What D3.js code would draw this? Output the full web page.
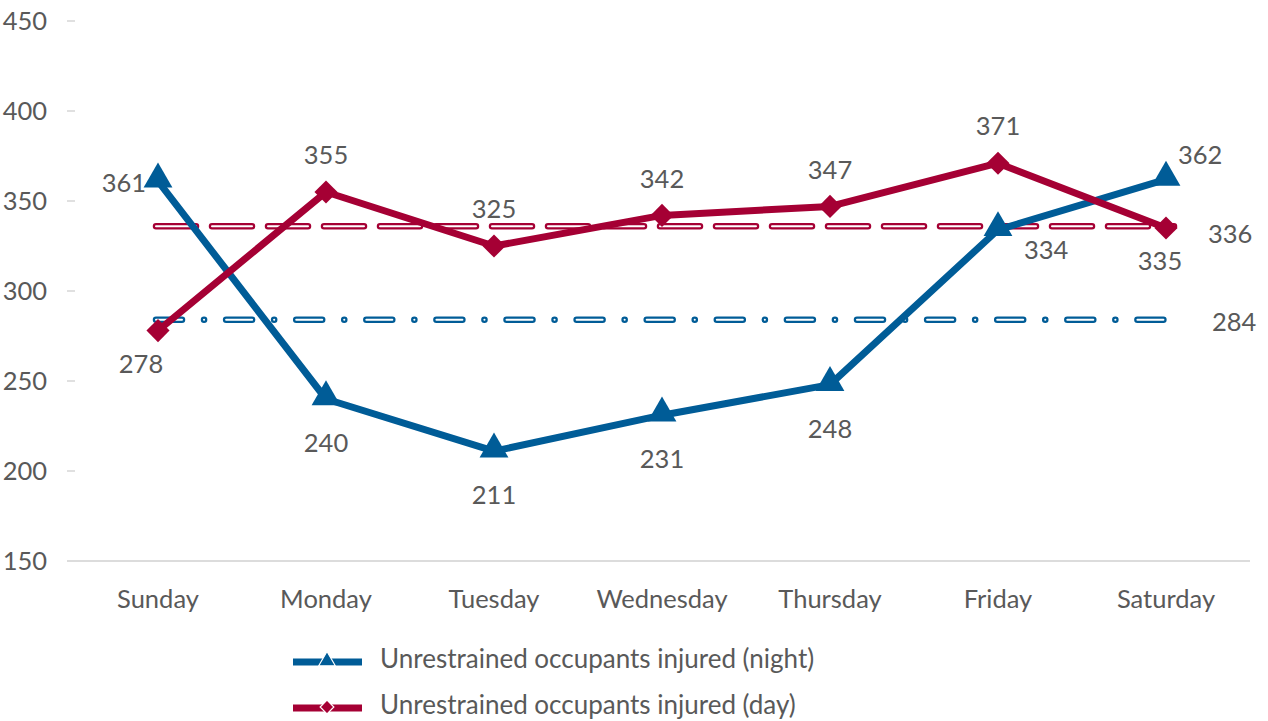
<!DOCTYPE html>
<html>
<head>
<meta charset="utf-8">
<script src="https://cdn.jsdelivr.net/npm/d3@7"></script>
<style>
	body { margin: 0; background: #fff; }
	text { font-family: Lato, "Open Sans", sans-serif; fill: #595959; }
</style>
</head>
<body>
<svg id="chart" width="1268" height="721"></svg>
<script>
const days = ['Sunday', 'Monday', 'Tuesday', 'Wednesday', 'Thursday', 'Friday', 'Saturday'];
const nightValues = [361, 240, 211, 231, 248, 334, 362];
const dayValues = [278, 355, 325, 342, 347, 371, 335];
const nightAverage = 284;
const dayAverage = 336;
const yTicks = [150, 200, 250, 300, 350, 400, 450];
const nightLabelPos = ['left', 'below', 'below', 'below', 'below', 'belowRight', 'aboveRight'];
const dayLabelPos = ['below', 'above', 'above', 'above', 'above', 'above', 'below'];

const blue = '#005C97';
const red = '#A50034';

const Chart = {
	left: 74,
	right: 1250,
	top: 21,
	bottom: 561,
	fontSize: '25.5px',

	draw: function() {
		const self = this;
		let svg = d3.select('#chart');

		self.x = d3.scaleBand().domain(days).range([ self.left, self.right ]);
		self.y = d3.scaleLinear().domain([ 150, 450 ]).range([ self.bottom, self.top ]);

		self.drawAxes(svg);
		self.drawAverage(svg, dayAverage, red, '40,16', 'round');
		self.drawAverage(svg, nightAverage, blue, '26,22,0.1,22', 'round');
		self.drawSeries(svg, nightValues, blue, 'triangle', nightLabelPos);
		self.drawSeries(svg, dayValues, red, 'diamond', dayLabelPos);
		self.drawAverageLabels(svg);
		self.drawLegend(svg);
	},

	xc: function(i) {
		return this.x(days[i]) + this.x.bandwidth() / 2;
	},

	drawAxes: function(svg) {
		const self = this;

		svg.append('g').selectAll('line')
			.data(yTicks.slice(1))
			.enter().append('line')
			.attr('x1', 67).attr('x2', 75)
			.attr('y1', d => self.y(d)).attr('y2', d => self.y(d))
			.style('stroke', '#d0d0d0').style('stroke-width', 1.3);

		svg.append('line')
			.attr('x1', 67).attr('x2', self.right)
			.attr('y1', self.y(150)).attr('y2', self.y(150))
			.style('stroke', '#d0d0d0').style('stroke-width', 1.5);

		svg.append('g').selectAll('text')
			.data(yTicks)
			.enter().append('text')
			.attr('x', 47)
			.attr('y', d => self.y(d))
			.attr('dy', '0.36em')
			.attr('text-anchor', 'end')
			.style('font-size', self.fontSize)
			.text(d => d);

		svg.append('g').selectAll('text')
			.data(days)
			.enter().append('text')
			.attr('x', d => self.x(d) + self.x.bandwidth() / 2)
			.attr('y', 599)
			.attr('dy', '0.36em')
			.attr('text-anchor', 'middle')
			.style('font-size', self.fontSize)
			.text(d => d);
	},

	drawAverage: function(svg, value, color, dash, cap) {
		const self = this;
		let y = self.y(value);
		let x1 = self.xc(0) - 2;
		let x2 = self.xc(days.length - 1) + 8;

		svg.append('line')
			.attr('x1', x1).attr('x2', x2).attr('y1', y).attr('y2', y)
			.style('stroke', color).style('stroke-width', 6.5)
			.style('stroke-dasharray', dash).style('stroke-linecap', cap);
		svg.append('line')
			.attr('x1', x1).attr('x2', x2).attr('y1', y).attr('y2', y)
			.style('stroke', '#fff').style('stroke-width', 2)
			.style('stroke-dasharray', dash).style('stroke-linecap', cap);
	},

	drawSeries: function(svg, values, color, shape, labelPos) {
		const self = this;
		let line = d3.line()
			.x((d, i) => self.xc(i))
			.y(d => self.y(d));

		svg.append('path')
			.datum(values)
			.attr('d', line)
			.style('fill', 'none')
			.style('stroke', color)
			.style('stroke-width', 7)
			.style('stroke-linejoin', 'round');

		let symbol = shape == 'triangle'
			? d3.symbol().type(d3.symbolTriangle).size(360)
			: d3.symbol().type(d3.symbolDiamond2).size(340);

		svg.append('g').selectAll('path')
			.data(values)
			.enter().append('path')
			.attr('d', symbol)
			.attr('transform', (d, i) => 'translate(' + self.xc(i) + ',' + (self.y(d) + (shape == 'triangle' ? -2 : 0)) + ')')
			.style('fill', color);

		let offsets = {
			above: [ 0, -37, 'middle' ],
			below: [ 0, shape == 'triangle' ? 44 : 33, 'middle' ],
			left: [ -12, 2, 'end' ],
			belowRight: [ 26, 20, 'start' ],
			aboveRight: [ 12, -25, 'start' ]
		};

		svg.append('g').selectAll('text')
			.data(values)
			.enter().append('text')
			.attr('x', (d, i) => self.xc(i) + offsets[labelPos[i]][0] + (labelPos[i] == 'below' && shape == 'diamond' && i == 0 ? -17 : 0) + (labelPos[i] == 'below' && shape == 'diamond' && i == 6 ? -6 : 0))
			.attr('y', (d, i) => self.y(d) + offsets[labelPos[i]][1])
			.attr('dy', '0.36em')
			.attr('text-anchor', (d, i) => offsets[labelPos[i]][2])
			.style('font-size', self.fontSize)
			.text(d => d);
	},

	drawAverageLabels: function(svg) {
		const self = this;

		svg.append('text')
			.attr('x', 1208).attr('y', self.y(dayAverage) + 8)
			.attr('dy', '0.36em')
			.style('font-size', self.fontSize)
			.text(dayAverage);

		svg.append('text')
			.attr('x', 1212).attr('y', self.y(nightAverage) + 2)
			.attr('dy', '0.36em')
			.style('font-size', self.fontSize)
			.text(nightAverage);
	},

	drawLegend: function(svg) {
		let items = [
			{ name: 'Unrestrained occupants injured (night)', color: blue, shape: d3.symbolTriangle, y: 659 },
			{ name: 'Unrestrained occupants injured (day)', color: red, shape: d3.symbolDiamond2, y: 705 }
		];

		let g = svg.append('g').selectAll('g')
			.data(items)
			.enter().append('g');

		g.append('line')
			.attr('x1', 293).attr('x2', 362)
			.attr('y1', d => d.y + 3).attr('y2', d => d.y + 3)
			.style('stroke', d => d.color).style('stroke-width', 7);

		g.append('path')
			.attr('d', d => d3.symbol().type(d.shape).size(120)())
			.attr('transform', d => 'translate(327,' + (d.y + 2) + ')')
			.style('fill', d => d.color)
			.style('stroke', '#fff').style('stroke-width', 1.2);

		g.append('text')
			.attr('x', 380).attr('y', d => d.y)
			.attr('dy', '0.34em')
			.style('font-size', '26px')
			.text(d => d.name);
	}
};

Chart.draw();
</script>
</body>
</html>
